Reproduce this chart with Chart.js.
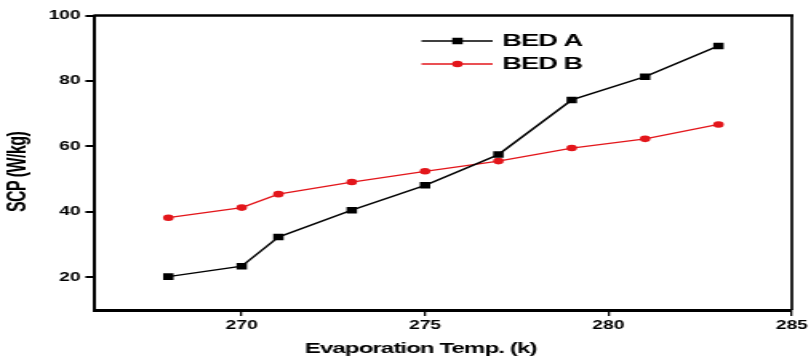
<!DOCTYPE html>
<html><head><meta charset="utf-8">
<script src="https://cdn.jsdelivr.net/npm/chart.js@4"></script>
<style>
html,body{margin:0;padding:0;background:#fff;overflow:hidden;}
#wrap{width:507px;height:362px;transform:scaleX(1.5996);transform-origin:0 0;}
</style></head><body>
<div id="wrap"><canvas id="c"></canvas></div>
<script>
const temps = [268, 270, 271, 273, 275, 277, 279, 281, 283];
const bedA = [20.2, 23.4, 32.3, 40.5, 48.1, 57.5, 74.2, 81.3, 90.7];
const bedB = [38.2, 41.3, 45.4, 49.1, 52.4, 55.5, 59.5, 62.3, 66.7];
const xTicks = [270, 275, 280, 285];
const yTicks = [20, 40, 60, 80, 100];
const seriesNames = ['BED A', 'BED B'];
const seriesColors = ['#000000', '#e3161b'];
const xTitle = 'Evaporation Temp. (k)';
const yTitle = 'SCP (W/kg)';

const FONT = "'Liberation Sans', Arial, sans-serif";

const decor = {
  id: 'decor',
  afterDraw(chart) {
    const ctx = chart.ctx, a = chart.chartArea;
    ctx.save();
    ctx.strokeStyle = '#000';
    // frame: top and right
    ctx.lineWidth = 2.6;
    ctx.beginPath(); ctx.moveTo(a.left - 1, a.top); ctx.lineTo(a.right + 1, a.top); ctx.stroke();
    ctx.lineWidth = 1.7;
    ctx.beginPath(); ctx.moveTo(a.right, a.top); ctx.lineTo(a.right, a.bottom); ctx.stroke();
    // legend
    const lx0 = 263.5, lx1 = 308, mx = 286, tx = 314;
    const ly = [41, 64];
    ctx.font = "bold 17px " + FONT;
    ctx.letterSpacing = '-0.6px';
    ctx.textBaseline = 'middle';
    ctx.textAlign = 'left';
    seriesNames.forEach((n, i) => {
      ctx.strokeStyle = seriesColors[i];
      ctx.fillStyle = seriesColors[i];
      ctx.lineWidth = i === 0 ? 1.5 : 1.3;
      ctx.beginPath(); ctx.moveTo(lx0, ly[i]); ctx.lineTo(lx1, ly[i]); ctx.stroke();
      if (i === 0) { ctx.fillRect(mx - 3.25, ly[i] - 3.25, 6.5, 6.5); }
      else { ctx.beginPath(); ctx.arc(mx, ly[i], 3.3, 0, Math.PI * 2); ctx.fill(); }
      ctx.fillStyle = '#000';
      ctx.fillText(n, tx, ly[i] + 0.5);
    });
    // axis titles
    ctx.fillStyle = '#000';
    ctx.font = "bold 15px " + FONT;
    ctx.letterSpacing = '-0.55px';
    ctx.textAlign = 'center';
    ctx.fillText(xTitle, 263, 349);
    ctx.save();
    ctx.translate(11.2, 172);
    ctx.rotate(-Math.PI / 2);
    ctx.font = "bold 16px " + FONT;
    ctx.letterSpacing = '-0.6px';
    ctx.fillText(yTitle, 0, 0);
    ctx.restore();
    ctx.restore();
  }
};

new Chart(document.getElementById('c'), {
  type: 'line',
  data: {
    datasets: [
      {
        label: seriesNames[0],
        data: temps.map((t, i) => ({x: t, y: bedA[i]})),
        borderColor: seriesColors[0], backgroundColor: seriesColors[0],
        borderWidth: 1.5, pointStyle: 'rect', pointRadius: 4.6, pointHoverRadius: 4.6,
        pointBorderWidth: 0, tension: 0
      },
      {
        label: seriesNames[1],
        data: temps.map((t, i) => ({x: t, y: bedB[i]})),
        borderColor: seriesColors[1], backgroundColor: seriesColors[1],
        borderWidth: 1.3, pointStyle: 'circle', pointRadius: 3.3, pointHoverRadius: 3.3,
        pointBorderWidth: 0, tension: 0
      }
    ]
  },
  options: {
    responsive: true, maintainAspectRatio: false, animation: false,
    layout: {padding: {left: 0, right: 12, top: 15.5, bottom: 0}},
    plugins: {legend: {display: false}, tooltip: {enabled: false}},
    scales: {
      x: {
        type: 'linear', min: 266, max: 285,
        afterBuildTicks: s => { s.ticks = xTicks.map(v => ({value: v})); },
        afterFit: s => { s.height = 52; },
        grid: {drawOnChartArea: false, drawTicks: true, tickLength: 6, color: '#000', lineWidth: 1.3},
        border: {display: true, color: '#000', width: 3},
        ticks: {color: '#000', padding: 2, maxRotation: 0, font: {family: FONT, size: 12, weight: 'bold'}}
      },
      y: {
        type: 'linear', min: 10, max: 100,
        afterBuildTicks: s => { s.ticks = yTicks.map(v => ({value: v})); },
        afterFit: s => { s.width = 59.4; },
        grid: {drawOnChartArea: false, drawTicks: true, tickLength: 6, color: '#000', lineWidth: 2},
        border: {display: true, color: '#000', width: 2},
        ticks: {color: '#000', padding: 3, font: {family: FONT, size: 12, weight: 'bold'}}
      }
    }
  },
  plugins: [decor]
});
</script>
</body></html>
